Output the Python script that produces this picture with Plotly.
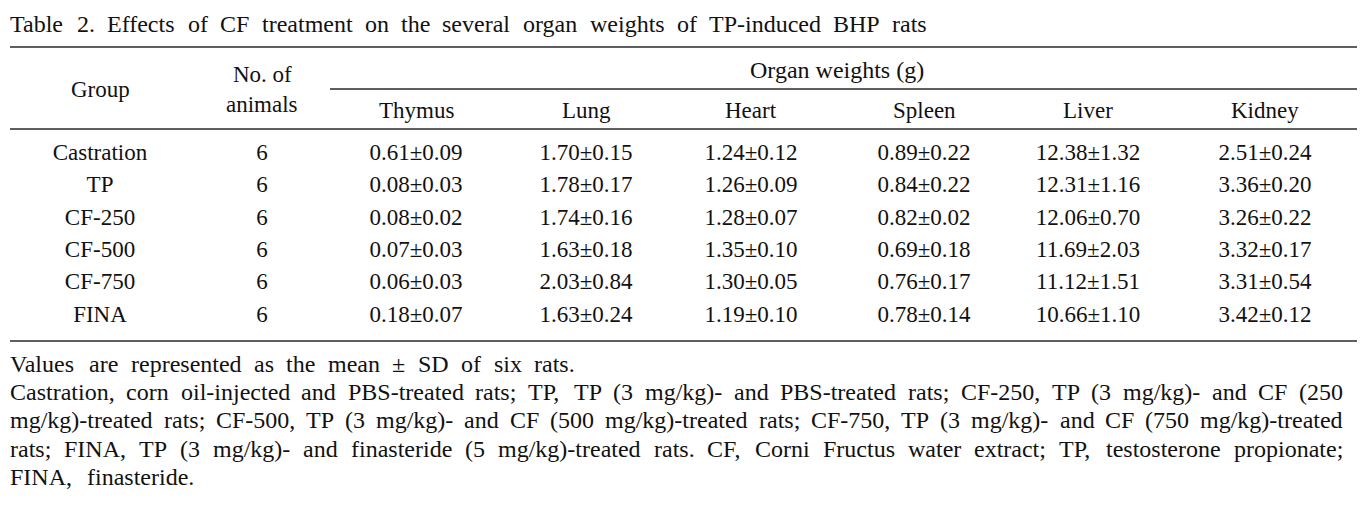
import plotly.graph_objects as go

# table content
title = "Table 2. Effects of CF treatment on the several organ weights of TP-induced BHP rats"
groups = ["Castration", "TP", "CF-250", "CF-500", "CF-750", "FINA"]
n_animals = ["6", "6", "6", "6", "6", "6"]
organs = ["Thymus", "Lung", "Heart", "Spleen", "Liver", "Kidney"]

thymus = ["0.61±0.09", "0.08±0.03", "0.08±0.02", "0.07±0.03", "0.06±0.03", "0.18±0.07"]
lung = ["1.70±0.15", "1.78±0.17", "1.74±0.16", "1.63±0.18", "2.03±0.84", "1.63±0.24"]
heart = ["1.24±0.12", "1.26±0.09", "1.28±0.07", "1.35±0.10", "1.30±0.05", "1.19±0.10"]
spleen = ["0.89±0.22", "0.84±0.22", "0.82±0.02", "0.69±0.18", "0.76±0.17", "0.78±0.14"]
liver = ["12.38±1.32", "12.31±1.16", "12.06±0.70", "11.69±2.03", "11.12±1.51", "10.66±1.10"]
kidney = ["2.51±0.24", "3.36±0.20", "3.26±0.22", "3.32±0.17", "3.31±0.54", "3.42±0.12"]

footnotes = [
    "Values are represented as the mean ± SD of six rats.",
    "Castration, corn oil-injected and PBS-treated rats; TP, TP (3 mg/kg)- and PBS-treated rats; CF-250, TP (3 mg/kg)- and CF (250",
    "mg/kg)-treated rats; CF-500, TP (3 mg/kg)- and CF (500 mg/kg)-treated rats; CF-750, TP (3 mg/kg)- and CF (750 mg/kg)-treated",
    "rats; FINA, TP (3 mg/kg)- and finasteride (5 mg/kg)-treated rats. CF, Corni Fructus water extract; TP, testosterone propionate;",
    "FINA, finasteride.",
]

FONT = "Liberation Serif"
INK = "#111111"
RULE = "#2a2a2a"

# Times-style advance widths (per 1000 em), used to spread words the way
# the journal's justified lines are set
TIMES_W = {" ": 250, "(": 333, ")": 333, ",": 250, "-": 333, ".": 250, "/": 278,
           ";": 278, "±": 564, "A": 722, "B": 667, "C": 667, "D": 722, "E": 611,
           "F": 556, "H": 722, "I": 333, "N": 722, "P": 556, "S": 556, "T": 611,
           "V": 722, "a": 444, "b": 500, "c": 444, "d": 500, "e": 444, "f": 333,
           "g": 500, "h": 500, "i": 278, "j": 278, "k": 500, "l": 278, "m": 778,
           "n": 500, "o": 500, "p": 500, "r": 333, "s": 389, "t": 278, "u": 500,
           "v": 500, "w": 722, "x": 500, "y": 500}


def text_width(s, size):
    return sum(TIMES_W.get(c, 500) for c in s) * size / 1000


# page pixel coordinates (x to the right, y downward); the html body has an
# 8px margin, so the axes start at 8
col_x = [100, 262, 416, 586, 751, 924, 1088, 1265]
row_y = [154, 186.4, 218.8, 251.2, 283.6, 316]
left, right = 10, 1357

fig = go.Figure()

columns = [groups, n_animals, thymus, lung, heart, spleen, liver, kidney]
for cx, col in zip(col_x, columns):
    fig.add_trace(go.Scatter(
        x=[cx] * len(col), y=row_y, text=col, mode="text",
        textposition="middle center",
        textfont=dict(family=FONT, size=23, color=INK),
        hoverinfo="skip", showlegend=False,
    ))


def label(x, y, text, size=23, anchor="center"):
    fig.add_annotation(x=x, y=y, text=text, showarrow=False, xanchor=anchor,
                       yanchor="middle", font=dict(family=FONT, size=size, color=INK))


def spread(text, y, x0, x1, size=24):
    words = text.split(" ")
    widths = [text_width(w, size) for w in words]
    gap = (x1 - x0 - sum(widths)) / (len(words) - 1)
    x = x0
    for w, wd in zip(words, widths):
        label(x, y, w, size, anchor="left")
        x += wd + gap


spread(title, 24, 8, 925)
label(col_x[0], 89, "Group")
label(col_x[1], 74, "No. of")
label(col_x[1], 104, "animals")
label(837, 70, "Organ weights (g)", size=24)
for cx, name in zip(col_x[2:], organs):
    label(cx, 110, name)

foot_y = [364, 392, 420, 449, 477]
foot_end = [573, 1341, 1341, 1341, 192]
for fy, fe, line in zip(foot_y, foot_end, footnotes):
    spread(line, fy, 8, fe)

# horizontal rules
for y0, x0 in [(47, left), (89, 330), (129, left), (341, left)]:
    fig.add_shape(type="line", x0=x0, x1=right, y0=y0, y1=y0,
                  line=dict(color=RULE, width=1.5))

fig.update_xaxes(range=[8, 1369], visible=False)
fig.update_yaxes(range=[512, 8], visible=False)
fig.update_layout(
    width=1361, height=504,
    margin=dict(l=0, r=0, t=0, b=0),
    paper_bgcolor="white", plot_bgcolor="white",
)

fig.write_html("out.html")
